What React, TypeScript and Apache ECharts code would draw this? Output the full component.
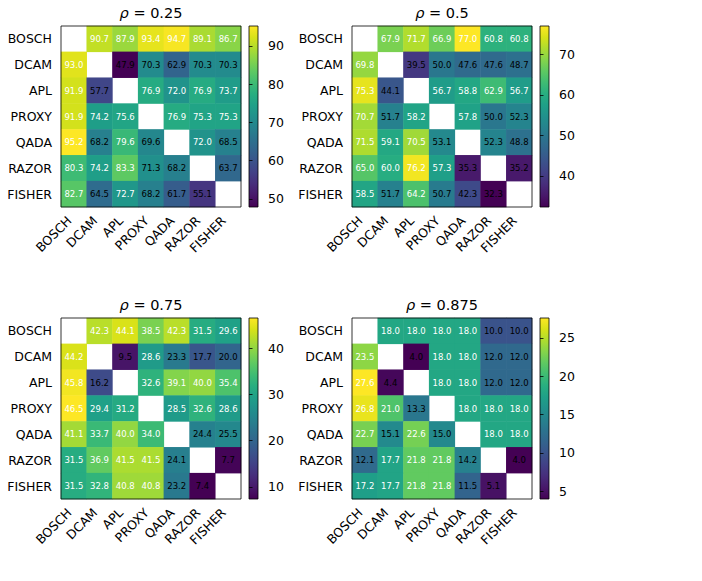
import React, { useEffect, useRef } from "react";
import * as echarts from "echarts";

// Methods compared on both axes (rows = y, columns = x)
const methods = ["BOSCH", "DCAM", "APL", "PROXY", "QADA", "RAZOR", "FISHER"];

const rhoLabels = ["0.25", "0.5", "0.75", "0.875"];

const scoresRho025: (number | null)[][] = [
  [null, 90.7, 87.9, 93.4, 94.7, 89.1, 86.7],
  [93.0, null, 47.9, 70.3, 62.9, 70.3, 70.3],
  [91.9, 57.7, null, 76.9, 72.0, 76.9, 73.7],
  [91.9, 74.2, 75.6, null, 76.9, 75.3, 75.3],
  [95.2, 68.2, 79.6, 69.6, null, 72.0, 68.5],
  [80.3, 74.2, 83.3, 71.3, 68.2, null, 63.7],
  [82.7, 64.5, 72.7, 68.2, 61.7, 55.1, null],
];

const scoresRho05: (number | null)[][] = [
  [null, 67.9, 71.7, 66.9, 77.0, 60.8, 60.8],
  [69.8, null, 39.5, 50.0, 47.6, 47.6, 48.7],
  [75.3, 44.1, null, 56.7, 58.8, 62.9, 56.7],
  [70.7, 51.7, 58.2, null, 57.8, 50.0, 52.3],
  [71.5, 59.1, 70.5, 53.1, null, 52.3, 48.8],
  [65.0, 60.0, 76.2, 57.3, 35.3, null, 35.2],
  [58.5, 51.7, 64.2, 50.7, 42.3, 32.3, null],
];

const scoresRho075: (number | null)[][] = [
  [null, 42.3, 44.1, 38.5, 42.3, 31.5, 29.6],
  [44.2, null, 9.5, 28.6, 23.3, 17.7, 20.0],
  [45.8, 16.2, null, 32.6, 39.1, 40.0, 35.4],
  [46.5, 29.4, 31.2, null, 28.5, 32.6, 28.6],
  [41.1, 33.7, 40.0, 34.0, null, 24.4, 25.5],
  [31.5, 36.9, 41.5, 41.5, 24.1, null, 7.7],
  [31.5, 32.8, 40.8, 40.8, 23.2, 7.4, null],
];

const scoresRho0875: (number | null)[][] = [
  [null, 18.0, 18.0, 18.0, 18.0, 10.0, 10.0],
  [23.5, null, 4.0, 18.0, 18.0, 12.0, 12.0],
  [27.6, 4.4, null, 18.0, 18.0, 12.0, 12.0],
  [26.8, 21.0, 13.3, null, 18.0, 18.0, 18.0],
  [22.7, 15.1, 22.6, 15.0, null, 18.0, 18.0],
  [12.1, 17.7, 21.8, 21.8, 14.2, null, 4.0],
  [17.2, 17.7, 21.8, 21.8, 11.5, 5.1, null],
];

const colorbarTicks025 = [50, 60, 70, 80, 90];
const colorbarTicks05 = [40, 50, 60, 70];
const colorbarTicks075 = [10, 20, 30, 40];
const colorbarTicks0875 = [5, 10, 15, 20, 25];

const matrices = [scoresRho025, scoresRho05, scoresRho075, scoresRho0875];
const colorbarTicks = [colorbarTicks025, colorbarTicks05, colorbarTicks075, colorbarTicks0875];

// viridis colormap stops, low -> high
const viridis = [
  "#440154", "#48186a", "#472d7b", "#424086", "#3b528b", "#33638d",
  "#2c728e", "#26828e", "#21918c", "#1fa088", "#28ae80", "#3fbc73",
  "#5ec962", "#84d44b", "#addc30", "#d8e219", "#fde725",
];

// panel placement (pixels)
const panelPos = [
  { left: 61, top: 26 },
  { left: 352, top: 26 },
  { left: 61, top: 318 },
  { left: 352, top: 318 },
];
const HEAT_W = 180;
const HEAT_H = 181;
const CBAR_GAP = 188;
const CBAR_W = 9;

const FONT = "DejaVu Sans";

function extent(m: (number | null)[][]): [number, number] {
  let lo = Infinity;
  let hi = -Infinity;
  m.forEach((row) =>
    row.forEach((v) => {
      if (v != null) {
        lo = Math.min(lo, v);
        hi = Math.max(hi, v);
      }
    })
  );
  return [lo, hi];
}

function buildOption() {
  const grid: any[] = [];
  const xAxis: any[] = [];
  const yAxis: any[] = [];
  const series: any[] = [];
  const visualMap: any[] = [];
  const title: any[] = [];

  const tickStyle = { color: "#000", width: 0.8 };

  matrices.forEach((m, p) => {
    const [lo, hi] = extent(m);
    const mid = (lo + hi) / 2;
    const pos = panelPos[p];
    const heatIdx = 2 * p;
    const barIdx = 2 * p + 1;

    grid.push({
      left: pos.left,
      top: pos.top,
      width: HEAT_W,
      height: HEAT_H,
      show: true,
      z: 5,
      backgroundColor: "transparent",
      borderColor: "#000",
      borderWidth: 0.8,
    });
    grid.push({
      left: pos.left + CBAR_GAP,
      top: pos.top,
      width: CBAR_W,
      height: HEAT_H,
      show: true,
      borderColor: "#000",
      borderWidth: 0.8,
      backgroundColor: {
        type: "linear",
        x: 0,
        y: 1,
        x2: 0,
        y2: 0,
        colorStops: viridis.map((c, i) => ({ offset: i / (viridis.length - 1), color: c })),
      },
    });

    xAxis.push({
      gridIndex: heatIdx,
      type: "category",
      data: methods,
      position: "bottom",
      axisLine: { show: false },
      axisTick: { alignWithLabel: true, length: 5, lineStyle: tickStyle },
      axisLabel: {
        rotate: 45,
        interval: 0,
        fontSize: 12.5,
        fontFamily: FONT,
        color: "#000",
        margin: 16,
        verticalAlign: "bottom",
      },
      splitLine: { show: false },
      z: 6,
    });
    yAxis.push({
      gridIndex: heatIdx,
      type: "category",
      data: methods,
      inverse: true,
      axisLine: { show: false },
      axisTick: { alignWithLabel: true, length: 5, lineStyle: tickStyle },
      axisLabel: {
        interval: 0,
        fontSize: 12.5,
        fontFamily: FONT,
        color: "#000",
        margin: 9,
      },
      splitLine: { show: false },
      z: 6,
    });

    xAxis.push({ gridIndex: barIdx, type: "value", show: false });
    yAxis.push({
      gridIndex: barIdx,
      type: "value",
      position: "right",
      min: lo,
      max: hi,
      axisLine: { show: false },
      splitLine: { show: false },
      axisTick: { show: true, customValues: colorbarTicks[p], length: 3.5, lineStyle: tickStyle },
      axisLabel: {
        customValues: colorbarTicks[p],
        fontSize: 12.5,
        fontFamily: FONT,
        color: "#000",
        margin: 10,
      },
    });

    const data: any[] = [];
    m.forEach((row, r) =>
      row.forEach((v, c) => {
        if (v == null) return;
        data.push({
          value: [c, r, v],
          label: { color: v > mid ? "#ffffff" : "#000000" },
        });
      })
    );

    series.push({
      type: "heatmap",
      name: "rho " + rhoLabels[p],
      xAxisIndex: heatIdx,
      yAxisIndex: heatIdx,
      data,
      label: {
        show: true,
        fontSize: 8.5,
        fontFamily: FONT,
        formatter: (prm: any) => Number(prm.value[2]).toFixed(1),
      },
      emphasis: { disabled: true },
    });

    visualMap.push({
      show: false,
      type: "continuous",
      seriesIndex: p,
      dimension: 2,
      min: lo,
      max: hi,
      inRange: { color: viridis },
    });

    title.push({
      text: "{i|ρ} = " + rhoLabels[p],
      left: pos.left + HEAT_W / 2,
      top: pos.top - 21,
      textAlign: "center",
      padding: 0,
      textStyle: {
        fontSize: 14.5,
        fontWeight: "normal",
        fontFamily: FONT,
        color: "#000",
        rich: {
          i: { fontSize: 14.5, fontStyle: "italic", fontFamily: FONT, color: "#000" },
        },
      },
    });
  });

  return {
    animation: false,
    backgroundColor: "#ffffff",
    title,
    grid,
    xAxis,
    yAxis,
    visualMap,
    series,
  };
}

export default function App() {
  const ref = useRef<HTMLDivElement>(null);

  useEffect(() => {
    if (!ref.current) return;
    const chart = echarts.init(ref.current, undefined, { renderer: "svg" });
    chart.setOption(buildOption() as any);
    return () => chart.dispose();
  }, []);

  return (
    <div
      ref={ref}
      style={{ position: "fixed", left: 0, top: 0, width: 702, height: 581, background: "#fff" }}
    />
  );
}
